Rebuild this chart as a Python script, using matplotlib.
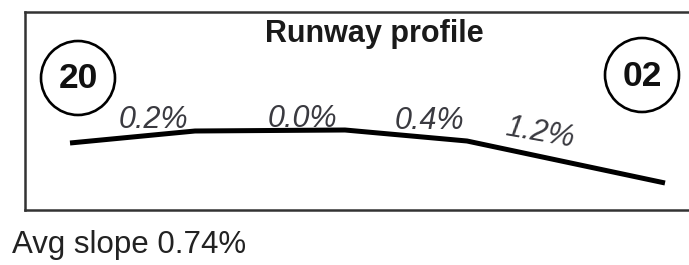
import matplotlib
matplotlib.use('Agg')
import matplotlib.pyplot as plt
from matplotlib.patches import Circle

# profile data (distance along runway and drawn elevation)
distance = [0, 125, 275, 397, 595]
elevation = [0, 12, 13, 2, -40]
slope_labels = ['0.2%', '0.0%', '0.4%', '1.2%']
runway_ends = ['20', '02']
title = 'Runway profile'
avg_text = 'Avg slope 0.74%'

# label placement (data units = pixels)
label_x = [83, 232, 359, 470]
label_y = [15, 16, 14, 10]
label_rot = [0, 0, 0, -10]
label_va = ['baseline', 'baseline', 'baseline', 'center']
end_x = [8, 572]
end_y = [65, 68]

W, H = 689, 265
fig = plt.figure(figsize=(W / 100, H / 100), dpi=100)

# axes = the framed box, one data unit = one pixel
left, right, top, bottom = 25, 689, 12, 210
ax = fig.add_axes([left / W, (H - bottom) / H, (right - left) / W, (bottom - top) / H])
ax.set_xlim(-45, right - left - 45)
ax.set_ylim(143 - bottom, 143 - top)
ax.set_xticks([])
ax.set_yticks([])
for s in ['top', 'bottom', 'left']:
    ax.spines[s].set_linewidth(1.8)
    ax.spines[s].set_color('#333333')
ax.spines['right'].set_visible(False)

# the profile line
ax.plot(distance, elevation, color='black', lw=3.6, solid_joinstyle='round', solid_capstyle='butt')

# slope labels
for t, x, y, r, va in zip(slope_labels, label_x, label_y, label_rot, label_va):
    ax.text(x, y, t, ha='center', va=va, rotation=r, rotation_mode='anchor',
            fontsize=22, style='italic', color='#3a3a40', family=['Liberation Sans', 'DejaVu Sans'])

# runway end circles
for t, x, y in zip(runway_ends, end_x, end_y):
    ax.add_patch(Circle((x, y), 37, fill=False, lw=1.9, ec='black'))
    ax.text(x, y - 1, t, ha='center', va='center', fontsize=25.5, fontweight='bold',
            color='#111111', family=['Liberation Sans', 'DejaVu Sans'])

ax.text(304, 101, title, ha='center', va='baseline', fontsize=22, fontweight='bold',
        color='#1a1a1a', family=['Liberation Sans', 'DejaVu Sans'])

fig.text(12 / W, (H - 253) / H, avg_text, ha='left', va='baseline', fontsize=22.5,
         color='#222222', family=['Liberation Sans', 'DejaVu Sans'])

fig.savefig('out.png', dpi=100)
